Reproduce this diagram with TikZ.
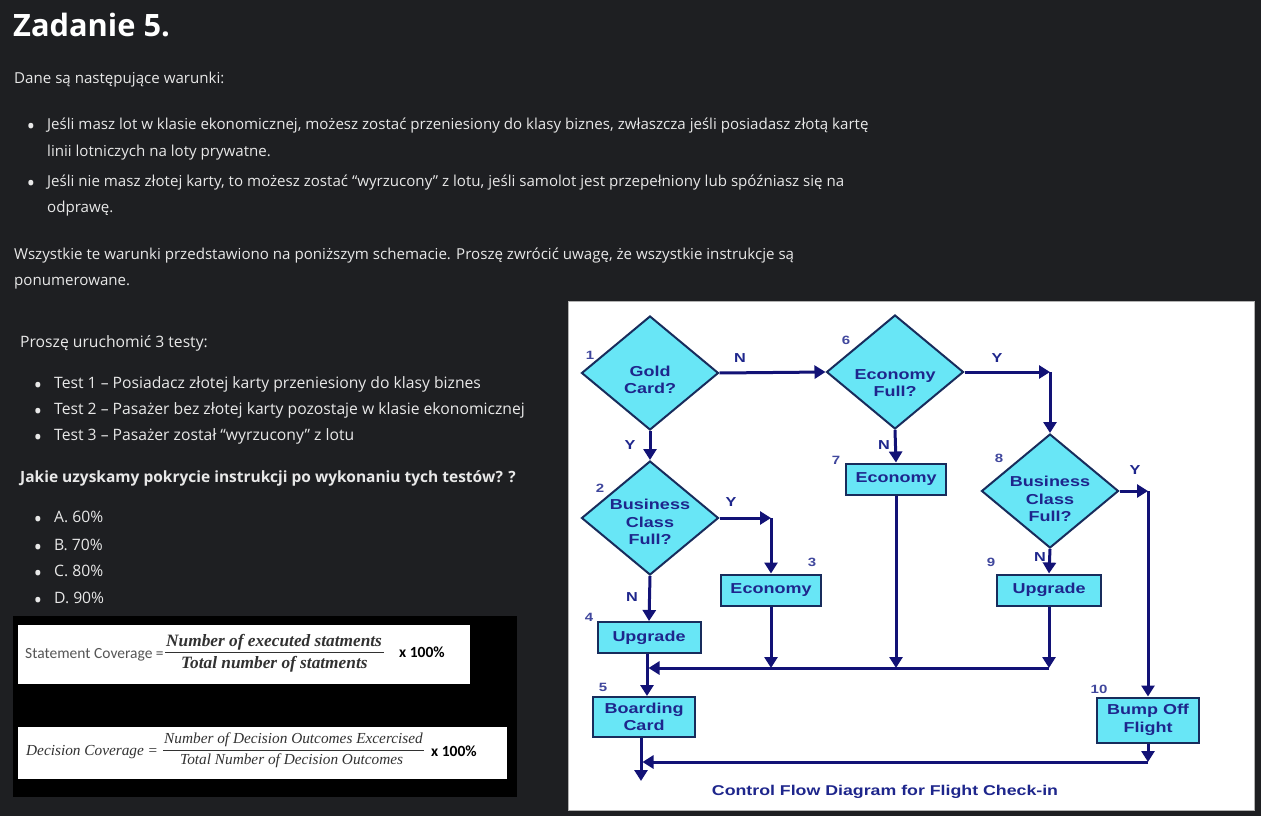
\documentclass[tikz,border=0pt]{standalone}
\usepackage{fontspec}
\setmainfont{Open Sans}
\newfontfamily\flowfont{Liberation Sans}[FakeStretch=1.25]
\newfontfamily\calfont{Carlito}
\newfontfamily\formfont{Liberation Serif}
\usepackage{tikz}
\usetikzlibrary{shapes.geometric, arrows.meta, positioning}
\definecolor{pagebg}{RGB}{30,31,34}
\definecolor{pagetext}{RGB}{232,232,232}
\definecolor{flowcyan}{RGB}{104,230,246}
\definecolor{flownavy}{RGB}{30,38,140}
\definecolor{flowline}{RGB}{18,18,118}
\definecolor{flowedge}{RGB}{24,44,92}
\definecolor{formgray}{RGB}{85,85,85}
\definecolor{formdark}{RGB}{50,50,50}

\tikzset{
  title/.style={anchor=base west, inner sep=0pt, text=white, font=\bfseries\fontsize{30.8}{34}\selectfont},
  body/.style={anchor=base west, inner sep=0pt, text=pagetext, font=\fontsize{15.1}{18}\selectfont},
  bodytwo/.style={anchor=base west, inner sep=0pt, text=pagetext, font=\fontsize{15.7}{18}\selectfont},
  dot/.style={anchor=center, yshift=-4.5pt, inner sep=0pt, text=pagetext, font=\fontsize{23}{24}\selectfont},
  decision/.style={diamond, draw=flowedge, line width=2pt, fill=flowcyan, minimum width=137pt,
    minimum height=114pt, inner sep=0pt},
  dectext/.style={inner sep=0pt, align=center, text=flownavy,
    font=\flowfont\bfseries\fontsize{14.4}{17.5}\selectfont},
  process/.style={rectangle, draw=flowedge, line width=2pt, fill=flowcyan, minimum height=31pt,
    inner sep=0pt, align=center, text=flownavy, font=\flowfont\bfseries\fontsize{14.4}{17.5}\selectfont},
  stepno/.style={inner sep=0pt, text=flownavy!85, font=\flowfont\bfseries\fontsize{12}{12}\selectfont},
  answer/.style={inner sep=0pt, text=flownavy, font=\flowfont\bfseries\fontsize{13}{13}\selectfont},
  flow/.style={draw=flowline, line width=3pt, -{Triangle[length=11pt, width=13pt]}},
  formtext/.style={anchor=base west, inner sep=0pt, text=formgray, font=\calfont\fontsize{15.5}{18}\selectfont},
  formfrac/.style={anchor=base west, inner sep=0pt, text=formdark, font=\formfont\itshape\bfseries\fontsize{17.3}{18}\selectfont},
  formdec/.style={anchor=base west, inner sep=0pt, text=formdark, font=\formfont\itshape\fontsize{15.3}{18}\selectfont},
  formtimes/.style={anchor=base west, inner sep=0pt, text=black, font=\calfont\bfseries\fontsize{15.5}{18}\selectfont}
}

\begin{document}
\begin{tikzpicture}[x=1pt, y=-1pt]
    \useasboundingbox (0,0) rectangle (1261,816);
    \fill[pagebg] (0,0) rectangle (1261,816);

    % Task text
    \node[title] (head) at (13,37) {Zadanie 5.};
    \node[body] (intro) at (14,83) {Dane są następujące warunki:};
    \node[dot] (dotA) at (31,124) {•};
    \node[body] (condAa) at (47,129) {Jeśli masz lot w klasie ekonomicznej, możesz zostać przeniesiony do klasy biznes, zwłaszcza jeśli posiadasz złotą kartę};
    \node[body] (condAb) at (47,156) {linii lotniczych na loty prywatne.};
    \node[dot] (dotB) at (31,181) {•};
    \node[body] (condBa) at (47,186) {Jeśli nie masz złotej karty, to możesz zostać “wyrzucony” z lotu, jeśli samolot jest przepełniony lub spóźniasz się na};
    \node[body] (condBb) at (47,212) {odprawę.};
    \node[body] (noteA) at (14,259) {Wszystkie te warunki przedstawiono na poniższym schemacie. Proszę zwrócić uwagę, że wszystkie instrukcje są};
    \node[body] (noteB) at (14,285) {ponumerowane.};

    % Tests and answers
    \node[bodytwo] (tests) at (20,347) {Proszę uruchomić 3 testy:};
    \foreach \yy/\txt [count=\i] in {388/Test 1 – Posiadacz złotej karty przeniesiony do klasy biznes,
        414/Test 2 – Pasażer bez złotej karty pozostaje w klasie ekonomicznej,
        440/Test 3 – Pasażer został “wyrzucony” z lotu} {
        \node[dot] (testdot\i) at (38,\yy-5) {•};
        \node[bodytwo] (test\i) at (54,\yy) {\txt};
    }
    \node[bodytwo, font=\bfseries\fontsize{15.5}{18}\selectfont] (question) at (20,482) {Jakie uzyskamy pokrycie instrukcji po wykonaniu tych testów? ?};
    \foreach \yy/\txt [count=\i] in {522/A. 60\%, 550/B. 70\%, 576/C. 80\%, 603/D. 90\%} {
        \node[dot] (optdot\i) at (38,\yy-5) {•};
        \node[bodytwo] (opt\i) at (54,\yy) {\txt};
    }

    % Coverage formulas
    \fill[black] (13,616) rectangle (517,797);
    \fill[white] (18,625) rectangle (470,684);
    \fill[white] (18,727) rectangle (507,779);
    \node[formtext] (stmtlhs) at (25,658) {Statement Coverage =};
    \node[formfrac] (stmtnum) at (166,646) {Number of executed statments};
    \node[formfrac] (stmtden) at (181,668) {Total number of statments};
    \draw[formdark, line width=1pt] (165,652) -- (384,652);
    \node[formtimes] (stmtx) at (399,657) {x 100\%};
    \node[formdec] (declhs) at (26,755) {Decision Coverage =};
    \node[formdec] (decnum) at (164,743) {Number of Decision Outcomes Excercised};
    \node[formdec] (decden) at (180,764) {Total Number of Decision Outcomes};
    \draw[formdark, line width=1pt] (163,750) -- (424,750);
    \node[formtimes] (decx) at (431,756) {x 100\%};

    % Flow chart panel
    \fill[white] (568,301) rectangle (1254,810);
    \draw[gray!60, line width=0.6pt] (568,301) rectangle (1254,810);

    \node[decision] (gold) at (650,373) {};
    \node[decision] (ecofull) at (895,372) {};
    \node[decision] (bizfull) at (650,518) {};
    \node[decision] (bizfulltwo) at (1050,491) {};
    \node[dectext] (goldtext) at ([yshift=-7pt]gold.center) {Gold\\Card?};
    \node[dectext] (ecofulltext) at ([yshift=-11pt]ecofull.center) {Economy\\Full?};
    \node[dectext] (bizfulltext) at ([yshift=-4pt]bizfull.center) {Business\\Class\\Full?};
    \node[dectext] (bizfulltwotext) at ([yshift=-8pt]bizfulltwo.center) {Business\\Class\\Full?};
    \node[process, minimum width=100pt] (econthree) at (771,590) {Economy};
    \node[process, minimum width=100pt] (econseven) at (896,479) {Economy};
    \node[process, minimum width=104pt] (upgnine) at (1049,590) {Upgrade};
    \node[process, minimum width=103pt] (upgfour) at (649,637.5) {Upgrade};
    \node[process, minimum width=102pt, minimum height=40pt] (board) at (644,717) {Boarding\\Card};
    \node[process, minimum width=102pt, minimum height=45pt] (bump) at (1148,720) {Bump Off\\Flight};

    % Statement numbers
    \node[stepno] (no1) at (590,355) {1};
    \node[stepno] (no2) at (600,488) {2};
    \node[stepno] (no3) at (812,562) {3};
    \node[stepno] (no4) at (589,617) {4};
    \node[stepno] (no5) at (603,687) {5};
    \node[stepno] (no6) at (846,340) {6};
    \node[stepno] (no7) at (836,460) {7};
    \node[stepno] (no8) at (999,458) {8};
    \node[stepno] (no9) at (991,562) {9};
    \node[stepno] (no10) at (1099,689) {10};

    % Corners and junctions
    \coordinate (turnbiz) at (bizfull.east -| econthree.north);
    \coordinate (turneco) at (ecofull.east -| bizfulltwo.north);
    \coordinate (turnbump) at (bizfulltwo.east -| bump.north);
    \coordinate (mergeline) at (0,668);
    \coordinate (lowline) at (0,762);
    \coordinate (mergenine) at (upgnine.south |- mergeline);
    \coordinate (mergethree) at (econthree.south |- mergeline);
    \coordinate (mergeseven) at (econseven.south |- mergeline);
    \coordinate (mergefour) at ([xshift=-2pt]upgfour.south |- mergeline);
    \coordinate (intoboard) at ([xshift=-2pt]upgfour.south |- board.north);
    \coordinate (lowbump) at (bump.south |- lowline);
    \coordinate (lowboard) at ([xshift=-3pt]board.south |- lowline);
    \coordinate (exitboard) at ([xshift=-3pt, yshift=-43pt]board.south);

    % Connectors
    \draw[flow] (gold.east) -- (ecofull.west);
    \draw[flow] (gold.south) -- (bizfull.north);
    \draw[flow] (bizfull.east) -- (turnbiz);
    \draw[flow] (turnbiz) -- (econthree.north);
    \draw[flow] (bizfull.south) -- (upgfour.north);
    \draw[flow] (ecofull.south) -- (econseven.north);
    \draw[flow] (ecofull.east) -- (turneco);
    \draw[flow] (turneco) -- (bizfulltwo.north);
    \draw[flow] (bizfulltwo.east) -- (turnbump);
    \draw[flow] (turnbump) -- (bump.north);
    \draw[flow] (bizfulltwo.south) -- (upgnine.north);
    \draw[flow] (econthree.south) -- (mergethree);
    \draw[flow] (econseven.south) -- (mergeseven);
    \draw[flow] (upgnine.south) -- (mergenine);
    \draw[flow, shorten >=1.5pt] (mergenine) -- (mergefour);
    \draw[flow] ([xshift=-2pt]upgfour.south) -- (intoboard);
    \draw[flow] (bump.south) -- (lowbump);
    \draw[flow, shorten >=1.5pt] (lowbump) -- (lowboard);
    \draw[flow] ([xshift=-3pt]board.south) -- (exitboard);

    % Branch labels
    \node[answer] (ansgold) at (740,358) {N};
    \node[answer] (ansgoldy) at (630,445) {Y};
    \node[answer] (ansbiz) at (731,502) {Y};
    \node[answer] (ansbizn) at (632,597) {N};
    \node[answer] (anseco) at (884,445) {N};
    \node[answer] (ansecoy) at (997,358) {Y};
    \node[answer] (ansbiztwo) at (1135,470) {Y};
    \node[answer] (ansbiztwon) at (1040,557) {N};

    \node[inner sep=0pt, anchor=base, text=flownavy, font=\flowfont\bfseries\fontsize{14.2}{17}\selectfont]
        (caption) at (885,795) {Control Flow Diagram for Flight Check-in};
\end{tikzpicture}
\end{document}
